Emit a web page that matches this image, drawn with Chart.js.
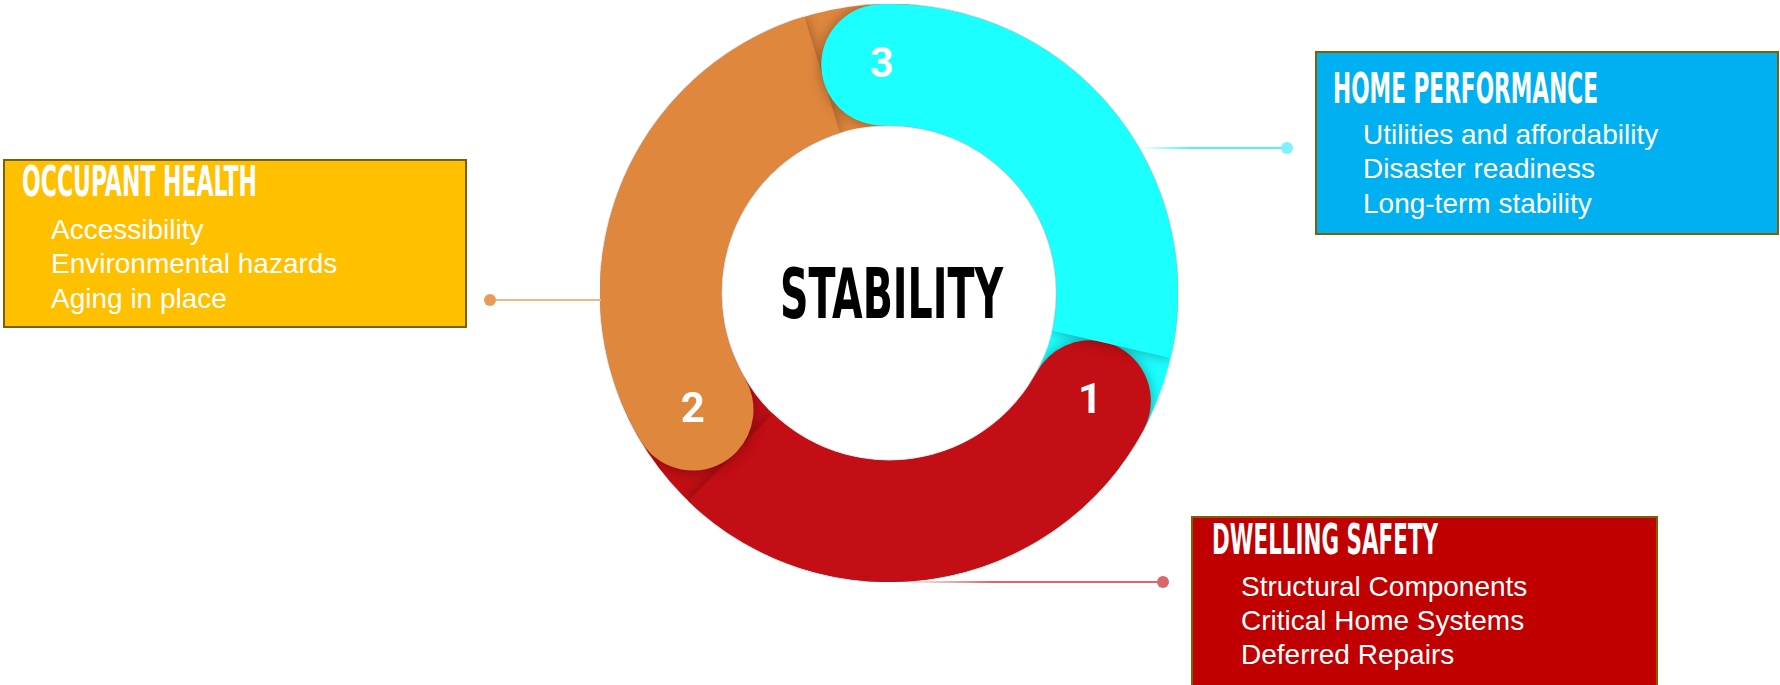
<!DOCTYPE html>
<html>
<head>
<meta charset="utf-8">
<script src="https://cdn.jsdelivr.net/npm/chart.js@4.4.0/dist/chart.umd.min.js"></script>
<style>
  html, body { margin: 0; padding: 0; background: #fff; }
  #page { position: relative; width: 1780px; height: 685px; overflow: hidden; background: #fff;
          font-family: 'Liberation Sans', Arial, sans-serif; }
  .ring { position: absolute; left: 600px; top: 4px; width: 578px; height: 578px; }
  .ring canvas { position: absolute; left: 0; top: 0; }
  .box { position: absolute; box-sizing: border-box; border: 2px solid #7F6000; }
  .txt { position: absolute; white-space: nowrap; color: #fff; transform-origin: 0 0; }
  .title { font-family: 'Liberation Sans Narrow', 'DejaVu Sans Condensed', sans-serif; font-weight: 700;
           font-size: 42px; line-height: 42px; }
  .item { font-size: 28px; line-height: 28px; }
  .center { position: absolute; white-space: nowrap; color: #000; transform-origin: 0 0;
            font-family: 'Liberation Sans Narrow', 'DejaVu Sans Condensed', sans-serif; font-weight: 700;
            font-size: 70px; line-height: 70px; }
  .link { position: absolute; height: 2px; }
  .dot { position: absolute; width: 12px; height: 12px; border-radius: 50%; }
</style>
</head>
<body>
<div id="page">
  <div class="ring">
    <canvas id="ringBase" width="578" height="578"></canvas>
    <canvas id="ringTop" width="578" height="578"></canvas>
  </div>
</div>
<script>
// ring: one segment per pillar, clockwise from the red cap
const ringNumbers = ['1', '2', '3'];
const ringShares = [121, 119, 120];
const ringColors = ['#C20E14', '#E0873E', '#1CFFFF'];
const ringStart = 103;     // degrees from 12 o'clock where segment 1 begins
const capOverlap = 24;     // how far each segment runs on under the next cap

const centerLabel = 'STABILITY';

const pillarTitles = ['DWELLING SAFETY', 'OCCUPANT HEALTH', 'HOME PERFORMANCE'];
const pillarItems = [
  ['Structural Components', 'Critical Home Systems', 'Deferred Repairs'],
  ['Accessibility', 'Environmental hazards', 'Aging in place'],
  ['Utilities and affordability', 'Disaster readiness', 'Long-term stability']
];
const pillarFills = ['#C00000', '#FFC000', '#00B0F0'];

// layout of the call-out boxes (page pixels)
const boxes = [
  { left: 1191, top: 516, w: 467, h: 171, titleX: 1212, titleBase: 555, titleW: 226,
    itemX: 1241, itemBase: [597, 631, 665], line: [900, 1163, 582], lineCol: '#E0646B', dotCol: '#D9666C', fadeLeft: true },
  { left: 3, top: 159, w: 464, h: 169, titleX: 22, titleBase: 197, titleW: 235,
    itemX: 51, itemBase: [239.5, 274, 308.5], line: [490, 601, 300], lineCol: '#F2B686', dotCol: '#E99A58', fadeLeft: false },
  { left: 1315, top: 51, w: 464, h: 184, titleX: 1333, titleBase: 103.5, titleW: 265,
    itemX: 1363, itemBase: [144.5, 179, 213.5], line: [1138, 1287, 148], lineCol: '#4FF2FA', dotCol: '#7EF1FA', fadeLeft: true }
];

const page = document.getElementById('page');

function addText(cls, text, x, base, size) {
  const el = document.createElement('div');
  el.className = 'txt ' + cls;
  el.textContent = text;
  el.style.left = x + 'px';
  el.style.top = (base - 0.846 * size) + 'px';
  page.appendChild(el);
  return el;
}

const squeeze = [];
boxes.forEach((b, i) => {
  const box = document.createElement('div');
  box.className = 'box';
  Object.assign(box.style, { left: b.left + 'px', top: b.top + 'px', width: b.w + 'px', height: b.h + 'px',
                             background: pillarFills[i] });
  page.appendChild(box);
  squeeze.push([addText('title', pillarTitles[i], b.titleX, b.titleBase, 42), b.titleW]);
  pillarItems[i].forEach((t, k) => addText('item', t, b.itemX, b.itemBase[k], 28));

  const [x0, x1, y] = b.line;
  const ln = document.createElement('div');
  ln.className = 'link';
  Object.assign(ln.style, { left: x0 + 'px', top: (y - 1) + 'px', width: (x1 - x0) + 'px',
    background: b.fadeLeft ? 'linear-gradient(to right, rgba(255,255,255,0) 0%, ' + b.lineCol + ' 35%, ' + b.lineCol + ' 100%)'
                           : b.lineCol });
  page.appendChild(ln);
  const dot = document.createElement('div');
  dot.className = 'dot';
  Object.assign(dot.style, { left: (x1 - 6) + 'px', top: (y - 6) + 'px', background: b.dotCol });
  if (!b.fadeLeft) dot.style.left = (x0 - 6) + 'px';
  page.appendChild(dot);
});

const center = document.createElement('div');
center.className = 'center';
center.textContent = centerLabel;
center.style.top = (318 - 0.846 * 70) + 'px';
page.appendChild(center);

// squeeze condensed headings to the widths seen in the picture
squeeze.forEach(([el, w]) => { el.style.transform = 'scaleX(' + (w / el.offsetWidth) + ')'; });
const cw = 223;
center.style.left = (891 - cw / 2) + 'px';
center.style.transform = 'scaleX(' + (cw / center.offsetWidth) + ')';

const baseOpts = {
  responsive: false,
  animation: false,
  events: [],
  cutout: '58%',
  layout: { padding: 0 },
  plugins: { legend: { display: false }, tooltip: { enabled: false } }
};

// under layer: plain segments pushed forward so they show beside the next segment's round cap
new Chart(document.getElementById('ringBase'), {
  type: 'doughnut',
  data: { labels: ringNumbers, datasets: [{ data: ringShares, backgroundColor: ringColors, borderWidth: 0 }] },
  options: Object.assign({}, baseOpts, { rotation: ringStart + capOverlap })
});

const capPlugin = {
  id: 'caps',
  beforeDatasetsDraw(chart) {
    const arc = chart.getDatasetMeta(0).data[0];
    const ctx = chart.ctx;
    ctx.save();
    ctx.beginPath();
    ctx.arc(arc.x, arc.y, arc.outerRadius + 1, 0, Math.PI * 2);
    ctx.arc(arc.x, arc.y, arc.innerRadius - 1, 0, Math.PI * 2, true);
    ctx.clip();
    ctx.shadowColor = 'rgba(0,0,0,0.35)';
    ctx.shadowBlur = 14;
  },
  afterDatasetsDraw(chart) {
    const ctx = chart.ctx;
    ctx.restore();
    ctx.save();
    ctx.fillStyle = '#fff';
    ctx.font = 'bold 42px Roboto, "Liberation Sans", Arial, sans-serif';
    ctx.textAlign = 'center';
    ctx.textBaseline = 'middle';
    chart.getDatasetMeta(0).data.forEach((arc, i) => {
      const mid = (arc.innerRadius + arc.outerRadius) / 2;
      const half = (arc.outerRadius - arc.innerRadius) / 2;
      const a = arc.startAngle + half / mid;
      ctx.fillText(ringNumbers[i], arc.x + mid * Math.cos(a), arc.y + mid * Math.sin(a) + 2);
    });
    ctx.restore();
  }
};

new Chart(document.getElementById('ringTop'), {
  type: 'doughnut',
  data: { labels: ringNumbers, datasets: [{
    data: ringShares,
    backgroundColor: ringColors,
    borderWidth: 0,
    borderRadius: { outerStart: 999, innerStart: 999, outerEnd: 0, innerEnd: 0 }
  }] },
  options: Object.assign({}, baseOpts, { rotation: ringStart }),
  plugins: [capPlugin]
});
</script>
</body>
</html>
